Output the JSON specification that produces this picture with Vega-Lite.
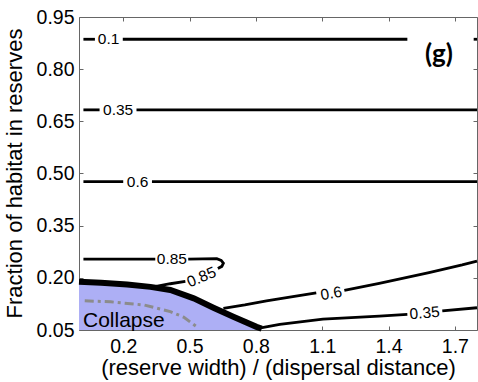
{
  "$schema": "https://vega.github.io/schema/vega-lite/v6.json",
  "width": 398,
  "height": 313,
  "autosize": {"type": "none"},
  "padding": {"left": 79, "top": 17, "right": 1, "bottom": 52},
  "background": "white",
  "config": {
    "view": {"stroke": "#666", "strokeWidth": 1},
    "font": "Liberation Sans",
    "axis": {"grid": false, "domain": false, "labelColor": "#000", "titleColor": "#000", "tickColor": "#666", "labelFont": "Liberation Sans", "titleFont": "Liberation Sans", "titleFontWeight": "normal"}
  },
  "datasets": {
    "boundary": [
      {"x": 0.0, "y": 0.189}, {"x": 0.1, "y": 0.186}, {"x": 0.218, "y": 0.181}, {"x": 0.323, "y": 0.174},
      {"x": 0.413, "y": 0.165}, {"x": 0.519, "y": 0.141}, {"x": 0.608, "y": 0.114}, {"x": 0.698, "y": 0.088},
      {"x": 0.803, "y": 0.059}, {"x": 0.826, "y": 0.054}
    ],
    "dashdot": [
      {"x": 0.026, "y": 0.134}, {"x": 0.143, "y": 0.131}, {"x": 0.293, "y": 0.122}, {"x": 0.413, "y": 0.103},
      {"x": 0.473, "y": 0.087}, {"x": 0.533, "y": 0.059}
    ],
    "contours": [
      {"seg": "a1", "o": 1, "x": 0.02, "y": 0.886}, {"seg": "a1", "o": 2, "x": 0.072, "y": 0.886},
      {"seg": "a2", "o": 1, "x": 0.198, "y": 0.886}, {"seg": "a2", "o": 2, "x": 1.485, "y": 0.886},
      {"seg": "a3", "o": 1, "x": 1.785, "y": 0.886}, {"seg": "a3", "o": 2, "x": 1.8, "y": 0.886},
      {"seg": "b1", "o": 1, "x": 0.02, "y": 0.683}, {"seg": "b1", "o": 2, "x": 0.093, "y": 0.683},
      {"seg": "b2", "o": 1, "x": 0.26, "y": 0.683}, {"seg": "b2", "o": 2, "x": 1.8, "y": 0.683},
      {"seg": "c1", "o": 1, "x": 0.02, "y": 0.4765}, {"seg": "c1", "o": 2, "x": 0.2, "y": 0.4765},
      {"seg": "c2", "o": 1, "x": 0.33, "y": 0.4765}, {"seg": "c2", "o": 2, "x": 1.8, "y": 0.4765},
      {"seg": "d1", "o": 1, "x": 0.02, "y": 0.254}, {"seg": "d1", "o": 2, "x": 0.345, "y": 0.254},
      {"seg": "d2", "o": 1, "x": 0.494, "y": 0.254}, {"seg": "d2", "o": 2, "x": 0.623, "y": 0.255},
      {"seg": "d2", "o": 3, "x": 0.643, "y": 0.25}, {"seg": "d2", "o": 4, "x": 0.653, "y": 0.242},
      {"seg": "d2", "o": 5, "x": 0.646, "y": 0.233}, {"seg": "d2", "o": 6, "x": 0.628, "y": 0.227},
      {"seg": "d3", "o": 1, "x": 0.481, "y": 0.19}, {"seg": "d3", "o": 2, "x": 0.413, "y": 0.183},
      {"seg": "d3", "o": 3, "x": 0.337, "y": 0.174},
      {"seg": "e1", "o": 1, "x": 0.653, "y": 0.112}, {"seg": "e1", "o": 2, "x": 0.75, "y": 0.122},
      {"seg": "e1", "o": 3, "x": 0.848, "y": 0.134}, {"seg": "e1", "o": 4, "x": 0.96, "y": 0.145},
      {"seg": "e1", "o": 5, "x": 1.073, "y": 0.157},
      {"seg": "e2", "o": 1, "x": 1.2, "y": 0.164}, {"seg": "e2", "o": 2, "x": 1.358, "y": 0.184},
      {"seg": "e2", "o": 3, "x": 1.583, "y": 0.215}, {"seg": "e2", "o": 4, "x": 1.733, "y": 0.237},
      {"seg": "e2", "o": 5, "x": 1.8, "y": 0.248},
      {"seg": "f1", "o": 1, "x": 0.822, "y": 0.056}, {"seg": "f1", "o": 2, "x": 0.908, "y": 0.066},
      {"seg": "f1", "o": 3, "x": 1.103, "y": 0.081}, {"seg": "f1", "o": 4, "x": 1.358, "y": 0.09},
      {"seg": "f1", "o": 5, "x": 1.485, "y": 0.095},
      {"seg": "f2", "o": 1, "x": 1.643, "y": 0.105}, {"seg": "f2", "o": 2, "x": 1.8, "y": 0.114}
    ],
    "labels": [
      {"t": "0.1", "x": 0.134, "y": 0.886},
      {"t": "0.35", "x": 0.177, "y": 0.683},
      {"t": "0.6", "x": 0.265, "y": 0.4765},
      {"t": "0.85", "x": 0.42, "y": 0.254}
    ]
  },
  "layer": [
    {
      "data": {"name": "boundary"},
      "mark": {"type": "area", "color": "#adaff5", "opacity": 1},
      "encoding": {
        "x": {"field": "x", "type": "quantitative", "scale": {"domain": [0, 1.8], "nice": false, "zero": false},
          "axis": {"orient": "bottom", "values": [0.2, 0.5, 0.8, 1.1, 1.4, 1.7], "format": ".1f", "title": "(reserve width) / (dispersal distance)",
            "labelFontSize": 19.5, "labelPadding": 11, "tickSize": -4, "titleFontSize": 22, "titleX": 199, "titleY": 37, "titleBaseline": "middle"}},
        "y": {"field": "y", "type": "quantitative", "scale": {"domain": [0.05, 0.95], "nice": false, "zero": false},
          "axis": {"orient": "left", "values": [0.05, 0.2, 0.35, 0.5, 0.65, 0.8, 0.95], "format": ".2f", "title": "Fraction of habitat in reserves",
            "labelFontSize": 19.5, "labelPadding": 9, "tickSize": -4, "titleFontSize": 22, "titleX": -65, "titleY": 156, "titleBaseline": "middle"}},
        "y2": {"datum": 0.05}
      }
    },
    {
      "data": {"name": "boundary"},
      "mark": {"type": "line", "color": "#000", "strokeWidth": 6, "strokeCap": "butt"},
      "encoding": {
        "x": {"field": "x", "type": "quantitative", "axis": {"orient": "top", "values": [0.2, 0.5, 0.8, 1.1, 1.4, 1.7], "labels": false, "title": null, "tickSize": -4}},
        "y": {"field": "y", "type": "quantitative", "axis": {"orient": "right", "values": [0.05, 0.2, 0.35, 0.5, 0.65, 0.8, 0.95], "labels": false, "title": null, "tickSize": -4}}
      }
    },
    {
      "data": {"name": "dashdot"},
      "mark": {"type": "line", "color": "#8c8c8c", "strokeWidth": 3, "strokeDash": [9, 4, 3, 4]},
      "encoding": {
        "x": {"field": "x", "type": "quantitative", "axis": null},
        "y": {"field": "y", "type": "quantitative", "axis": null}
      }
    },
    {
      "data": {"name": "contours"},
      "mark": {"type": "line", "color": "#000", "strokeWidth": 2.8},
      "encoding": {
        "x": {"field": "x", "type": "quantitative", "axis": null},
        "y": {"field": "y", "type": "quantitative", "axis": null},
        "detail": {"field": "seg"},
        "order": {"field": "o"}
      }
    },
    {
      "data": {"name": "labels"},
      "mark": {"type": "text", "fontSize": 15.5, "font": "Liberation Sans", "color": "#000"},
      "encoding": {
        "x": {"field": "x", "type": "quantitative", "axis": null},
        "y": {"field": "y", "type": "quantitative", "axis": null},
        "text": {"field": "t"}
      }
    },
    {
      "data": {"values": [{"t": "0.85", "x": 0.554, "y": 0.202}]},
      "mark": {"type": "text", "fontSize": 15.5, "font": "Liberation Sans", "color": "#000", "angle": 338},
      "encoding": {
        "x": {"field": "x", "type": "quantitative", "axis": null},
        "y": {"field": "y", "type": "quantitative", "axis": null},
        "text": {"field": "t"}
      }
    },
    {
      "data": {"values": [{"t": "0.6", "x": 1.141, "y": 0.155}]},
      "mark": {"type": "text", "fontSize": 15.5, "font": "Liberation Sans", "color": "#000", "angle": 350},
      "encoding": {
        "x": {"field": "x", "type": "quantitative", "axis": null},
        "y": {"field": "y", "type": "quantitative", "axis": null},
        "text": {"field": "t"}
      }
    },
    {
      "data": {"values": [{"t": "0.35", "x": 1.563, "y": 0.099}]},
      "mark": {"type": "text", "fontSize": 15.5, "font": "Liberation Sans", "color": "#000", "angle": 355},
      "encoding": {
        "x": {"field": "x", "type": "quantitative", "axis": null},
        "y": {"field": "y", "type": "quantitative", "axis": null},
        "text": {"field": "t"}
      }
    },
    {
      "data": {"values": [{"t": "(g)", "x": 1.628, "y": 0.841}]},
      "mark": {"type": "text", "fontSize": 26, "font": "Lato", "fontWeight": "bold", "color": "#000"},
      "encoding": {
        "x": {"field": "x", "type": "quantitative", "axis": null},
        "y": {"field": "y", "type": "quantitative", "axis": null},
        "text": {"field": "t"}
      }
    },
    {
      "data": {"values": [{"t": "Collapse", "x": 0.018, "y": 0.0595}]},
      "mark": {"type": "text", "fontSize": 21, "font": "Liberation Sans", "color": "#000", "align": "left", "baseline": "alphabetic"},
      "encoding": {
        "x": {"field": "x", "type": "quantitative", "axis": null},
        "y": {"field": "y", "type": "quantitative", "axis": null},
        "text": {"field": "t"}
      }
    }
  ],
  "resolve": {"axis": {"x": "independent", "y": "independent"}}
}
